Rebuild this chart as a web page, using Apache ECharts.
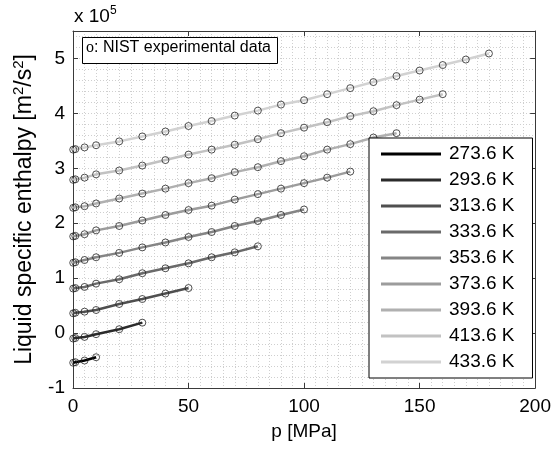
<!DOCTYPE html>
<html>
<head>
<meta charset="utf-8">
<script src="https://cdn.jsdelivr.net/npm/echarts@6/dist/echarts.min.js"></script>
<style>html,body{margin:0;padding:0;background:#fff;}#chart{width:554px;height:450px;}</style>
</head>
<body>
<div id="chart"></div>
<script>
// Temperatures (legend)
const temps = ['273.6 K','293.6 K','313.6 K','333.6 K','353.6 K','373.6 K','393.6 K','413.6 K','433.6 K'];
// Pressures [MPa] of the NIST points (each isotherm uses the first N)
const pressures = [0.1, 1, 5, 10, 20, 30, 40, 50, 60, 70, 80, 90, 100, 110, 120, 130, 140, 150, 160, 170, 180];
// Liquid specific enthalpy, in units of 1e5 m^2/s^2
const h273 = [-0.54, -0.53, -0.50, -0.44];
const h293 = [-0.10, -0.09, -0.07, -0.02, 0.07, 0.19];
const h313 = [0.36, 0.37, 0.39, 0.42, 0.53, 0.62, 0.72, 0.82];
const h333 = [0.81, 0.82, 0.84, 0.90, 0.98, 1.09, 1.18, 1.27, 1.38, 1.47, 1.58];
const h353 = [1.28, 1.29, 1.33, 1.38, 1.46, 1.56, 1.65, 1.75, 1.84, 1.95, 2.04, 2.15, 2.25];
const h373 = [1.76, 1.77, 1.80, 1.87, 1.95, 2.05, 2.15, 2.24, 2.32, 2.43, 2.53, 2.63, 2.73, 2.83, 2.94];
const h393 = [2.28, 2.29, 2.31, 2.36, 2.45, 2.54, 2.63, 2.73, 2.82, 2.93, 3.02, 3.13, 3.22, 3.34, 3.44, 3.56, 3.64];
const h413 = [2.79, 2.80, 2.83, 2.89, 2.96, 3.05, 3.15, 3.25, 3.34, 3.43, 3.53, 3.64, 3.74, 3.84, 3.95, 4.04, 4.15, 4.25, 4.35];
const h433 = [3.34, 3.35, 3.38, 3.42, 3.49, 3.58, 3.67, 3.77, 3.86, 3.96, 4.05, 4.16, 4.24, 4.35, 4.46, 4.57, 4.68, 4.78, 4.88, 4.98, 5.09];
const enthalpy = [h273, h293, h313, h333, h353, h373, h393, h413, h433];
// Axis ticks
const xTicks = [0, 50, 100, 150, 200];
const yTicks = [-1, 0, 1, 2, 3, 4, 5];

const lineColors = ['#000000','#2b2b2b','#4f4f4f','#6a6a6a','#858585','#9c9c9c','#b0b0b0','#c2c2c2','#d2d2d2'];
const FONT = '"Liberation Sans", Arial, Helvetica, sans-serif';
const AXC = '#3a3a3a';
const GRIDC = '#cfcfcf';
const DOT = [1, 2];

const chart = echarts.init(document.getElementById('chart'), null, {renderer: 'canvas'});

const series = [];
enthalpy.forEach((h, k) => {
  const pts = h.map((v, i) => [pressures[i], v]);
  series.push({
    name: temps[k], type: 'line', data: pts, symbol: 'none', silent: true,
    lineStyle: {color: lineColors[k], width: 2.5}, itemStyle: {color: lineColors[k]}, z: 2
  });
});
enthalpy.forEach((h, k) => {
  const pts = h.map((v, i) => [pressures[i], v]);
  series.push({
    name: 'NIST ' + temps[k], type: 'scatter', data: pts, symbol: 'circle', symbolSize: 7, silent: true,
    itemStyle: {color: 'rgba(0,0,0,0)', borderColor: '#262626', borderWidth: 1}, z: 3
  });
});

const xMin = xTicks[0], xMax = xTicks[xTicks.length - 1], xInt = xTicks[1] - xTicks[0];
const yMin = yTicks[0], yMax = 5.5, yInt = yTicks[1] - yTicks[0];

const option = {
  animation: false,
  backgroundColor: '#ffffff',
  textStyle: {fontFamily: FONT},
  grid: {left: 73, right: 17, top: 31, bottom: 62},
  xAxis: [
    {type: 'value', min: xMin, max: xMax, interval: xInt, position: 'bottom',
     name: 'p [MPa]', nameLocation: 'middle', nameGap: 34,
     nameTextStyle: {fontSize: 19, color: '#000', fontFamily: FONT},
     axisLine: {show: true, onZero: false, lineStyle: {color: AXC, width: 1}},
     axisTick: {show: true, inside: true, length: 5, lineStyle: {color: AXC}},
     axisLabel: {show: true, margin: 9, fontSize: 19, color: '#000', fontFamily: FONT},
     splitLine: {show: false}},
    {type: 'value', min: xMin, max: xMax, interval: xInt, position: 'top',
     axisLine: {show: true, onZero: false, lineStyle: {color: AXC, width: 1}},
     axisTick: {show: true, inside: true, length: 5, lineStyle: {color: AXC}},
     axisLabel: {show: false}, splitLine: {show: false}},
    {type: 'value', min: xMin, max: xMax, interval: 5, position: 'bottom',
     axisLine: {show: false, onZero: false}, axisTick: {show: false}, axisLabel: {show: false},
     splitLine: {show: true, lineStyle: {color: GRIDC, width: 1, type: DOT}}, z: 0}
  ],
  yAxis: [
    {type: 'value', min: yMin, max: yMax, interval: yInt, position: 'left',
     name: 'Liquid specific enthalpy [m{sup|2}/s{sup|2}]', nameLocation: 'middle', nameGap: 31,
     nameTextStyle: {fontSize: 23, color: '#000', fontFamily: FONT, lineHeight: 26,
       rich: {sup: {fontSize: 15, lineHeight: 15, verticalAlign: 'top', color: '#000', fontFamily: FONT}}},
     axisLine: {show: true, onZero: false, lineStyle: {color: AXC, width: 1}},
     axisTick: {show: true, inside: true, length: 5, lineStyle: {color: AXC}},
     axisLabel: {show: true, margin: 8, fontSize: 19, color: '#000', fontFamily: FONT, showMaxLabel: false},
     splitLine: {show: false}},
    {type: 'value', min: yMin, max: yMax, interval: yInt, position: 'right',
     axisLine: {show: true, onZero: false, lineStyle: {color: AXC, width: 1}},
     axisTick: {show: true, inside: true, length: 5, lineStyle: {color: AXC}},
     axisLabel: {show: false}, splitLine: {show: false}},
    {type: 'value', min: yMin, max: yMax, interval: 0.2, position: 'left',
     axisLine: {show: false, onZero: false}, axisTick: {show: false}, axisLabel: {show: false},
     splitLine: {show: true, lineStyle: {color: GRIDC, width: 1, type: DOT}}, z: 0}
  ],
  legend: {
    data: temps, orient: 'vertical', left: 369, top: 138,
    padding: [6, 18, 6, 12], itemGap: 6, itemWidth: 60, itemHeight: 3, icon: 'rect',
    backgroundColor: '#ffffff', borderColor: '#000', borderWidth: 1, borderRadius: 0,
    textStyle: {fontSize: 19, lineHeight: 20, color: '#000', fontFamily: FONT, padding: [0, 0, 0, 3]},
    selectedMode: false, z: 10
  },
  graphic: [
    {type: 'rect', left: 82, top: 37, shape: {width: 195, height: 26}, z: 20,
     style: {fill: '#fff', stroke: '#000', lineWidth: 1}},
    {type: 'text', left: 86, top: 40, z: 21,
     style: {text: '{o|o}: NIST experimental data', font: '16px ' + FONT, fill: '#000',
       rich: {o: {fontFamily: '"Liberation Serif", "Times New Roman", serif', fontSize: 16, fill: '#000'}}}},
    {type: 'text', left: 74, top: 5, z: 21,
     style: {text: 'x 10{sup|5}', font: '19px ' + FONT, fill: '#000', lineHeight: 24,
       rich: {sup: {fontSize: 12, lineHeight: 12, verticalAlign: 'top', fontFamily: FONT, fill: '#000'}}}}
  ],
  series: series
};
chart.setOption(option);
</script>
</body>
</html>
